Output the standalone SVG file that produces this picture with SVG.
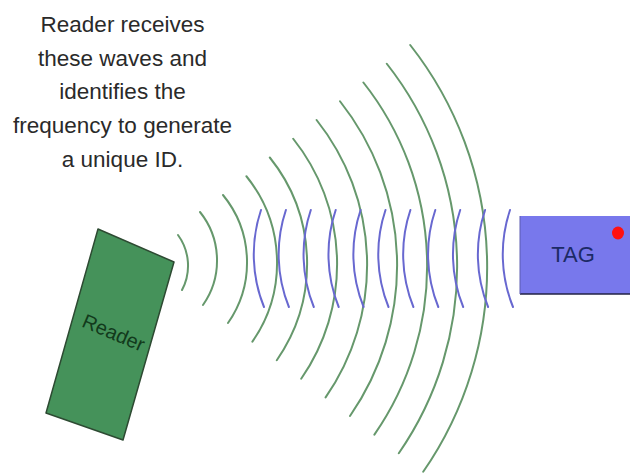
<svg xmlns="http://www.w3.org/2000/svg" width="635" height="474" viewBox="0 0 635 474">
<style>
.caption{font-family:"Liberation Sans",Arial,sans-serif;font-size:22.5px;fill:#2a2a2a;text-anchor:middle}
.green{fill:none;stroke:#66986c;stroke-width:2;stroke-linecap:round}
.blue{fill:none;stroke:#6868d0;stroke-width:2;stroke-linecap:round}
.lbl{font-family:"Liberation Sans",Arial,sans-serif;text-anchor:middle}
</style>
<rect width="635" height="474" fill="#ffffff"/>
<g id="caption">
<text class="caption" x="122.5" y="32">Reader receives</text>
<text class="caption" x="122.5" y="65.5">these waves and</text>
<text class="caption" x="122.5" y="99">identifies the</text>
<text class="caption" x="122.5" y="133">frequency to generate</text>
<text class="caption" x="122.5" y="167">a unique ID.</text>
</g>
<g id="waves">
<g id="reader-waves">
<path class="green" d="M178,235 A52 52 0 0 1 182,290"/>
<path class="green" d="M200,212 A77.6 77.6 0 0 1 203,305"/>
<path class="green" d="M223,195 A106.3 106.3 0 0 1 228,323"/>
<path class="green" d="M246.4,176.25 A137.9 137.9 0 0 1 252.4,341.6"/>
<path class="green" d="M269.8,157.5 A169.4 169.4 0 0 1 276.8,360.2"/>
<path class="green" d="M293.2,138.75 A201.1 201.1 0 0 1 301.2,378.8"/>
<path class="green" d="M316.6,120 A232.7 232.7 0 0 1 325.6,397.4"/>
<path class="green" d="M340,101.25 A264.4 264.4 0 0 1 350,416"/>
<path class="green" d="M363.4,82.5 A296 296 0 0 1 374.4,434.6"/>
<path class="green" d="M386.8,63.75 A327.7 327.7 0 0 1 398.8,453.2"/>
<path class="green" d="M410.2,45 A359.3 359.3 0 0 1 423.2,471.8"/>
</g>
<g id="tag-waves">
<path class="blue" d="M261,210 A140 140 0 0 0 264,307"/>
<path class="blue" d="M285.9,210 A140 140 0 0 0 288.9,307"/>
<path class="blue" d="M310.8,210 A140 140 0 0 0 313.8,307"/>
<path class="blue" d="M335.7,210 A140 140 0 0 0 338.7,307"/>
<path class="blue" d="M360.6,210 A140 140 0 0 0 363.6,307"/>
<path class="blue" d="M385.5,210 A140 140 0 0 0 388.5,307"/>
<path class="blue" d="M410.4,210 A140 140 0 0 0 413.4,307"/>
<path class="blue" d="M435.3,210 A140 140 0 0 0 438.3,307"/>
<path class="blue" d="M460.2,210 A140 140 0 0 0 463.2,307"/>
<path class="blue" d="M485.1,210 A140 140 0 0 0 488.1,307"/>
<path class="blue" d="M510,210 A140 140 0 0 0 513,307"/>
</g>
</g>
<g id="reader">
<polygon points="98,229 174,262 123,440 46,413" fill="#45925a" stroke="#2d4a32" stroke-width="1.5" stroke-linejoin="round"/>
<text class="lbl" x="0" y="0" font-size="20" fill="#123a1c" transform="translate(111,339) rotate(23)">Reader</text>
</g>
<g id="tag">
<rect x="520" y="216" width="110" height="78" fill="#7878ec"/>
<line x1="520" y1="294" x2="630" y2="294" stroke="#222244" stroke-width="1.5"/>
<line x1="520" y1="216" x2="520" y2="294" stroke="#5a5ab0" stroke-width="1"/>
<ellipse cx="618" cy="233" rx="6" ry="6.5" fill="#ff1010"/>
<text class="lbl" x="573" y="262" font-size="22" fill="#1c2a66">TAG</text>
</g>
</svg>
